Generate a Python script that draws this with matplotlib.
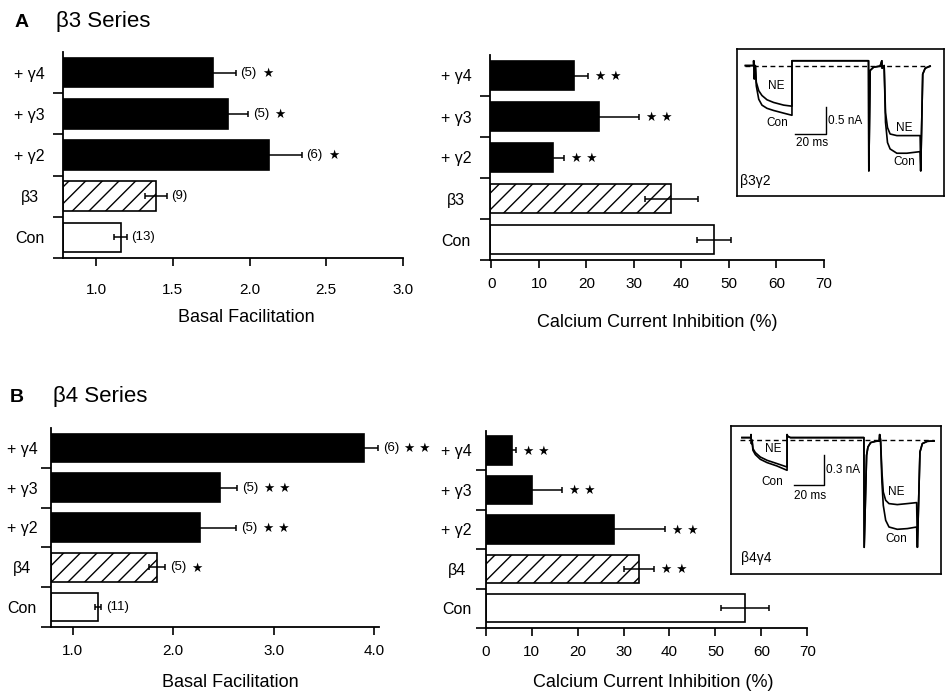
import numpy as np
import matplotlib
matplotlib.use('Agg')
import matplotlib.pyplot as plt

plt.rcParams['font.family'] = ['Liberation Sans', 'DejaVu Sans']
plt.rcParams['hatch.linewidth'] = 1.0

# ---------------- data ----------------
categories_A = ['+ γ4', '+ γ3', '+ γ2', 'β3', 'Con']
facil_A = [1.76, 1.86, 2.13, 1.39, 1.16]
facil_A_err = [0.15, 0.13, 0.21, 0.07, 0.04]
n_A = ['(5)', '(5)', '(6)', '(9)', '(13)']
facil_A_sig = ['★', '★', '★', '', '']
inhib_A = [17.3, 22.7, 13.0, 37.9, 46.9]
inhib_A_err = [3.0, 8.4, 2.2, 5.5, 3.6]
inhib_A_sig = ['★ ★', '★ ★', '★ ★', '', '']

categories_B = ['+ γ4', '+ γ3', '+ γ2', 'β4', 'Con']
facil_B = [3.90, 2.47, 2.27, 1.84, 1.25]
facil_B_err = [0.14, 0.17, 0.36, 0.08, 0.03]
n_B = ['(6)', '(5)', '(5)', '(5)', '(11)']
facil_B_sig = ['★ ★', '★ ★', '★ ★', '★', '']
inhib_B = [5.7, 10.1, 28.0, 33.3, 56.5]
inhib_B_err = [1.0, 6.6, 11.1, 3.3, 5.2]
inhib_B_sig = ['★ ★', '★ ★', '★ ★', '★ ★', '']

xticks_facil_A = [1.0, 1.5, 2.0, 2.5, 3.0]
xticklabels_facil_A = ['1.0', '1.5', '2.0', '2.5', '3.0']
xticks_facil_B = [1.0, 2.0, 3.0, 4.0]
xticklabels_facil_B = ['1.0', '2.0', '3.0', '4.0']
xticks_inhib = [0, 10, 20, 30, 40, 50, 60, 70]
xticklabels_inhib = ['0', '10', '20', '30', '40', '50', '60', '70']

# inset traces (time in ms, current in nA) -- beta3 gamma2
A_pre_t = [-5.4, 0.0, 0.0, 0.4, 1.1]
A_pre_I = [0.0, 0.0, 0.09, -0.25, 0.0]
A_p1_t = [1.7, 3.3, 5.4, 8.7, 13.0, 19.6, 25.0]
A_p1_con = [-0.38, -0.63, -0.74, -0.80, -0.84, -0.89, -0.93]
A_p1_ne = [-0.31, -0.47, -0.56, -0.64, -0.69, -0.74, -0.76]
A_mid_t = [25.0, 75.0, 75.2, 76.1, 78.3, 82.6, 83.7, 83.9, 85.2]
A_mid_I = [0.09, 0.09, -1.97, -0.09, -0.03, -0.01, 0.09, -0.05, 0.0]
A_p2_t = [86.1, 87.4, 89.1, 93.5, 100.0, 108.7]
A_p2_con = [-1.06, -1.44, -1.56, -1.64, -1.64, -1.61]
A_p2_ne = [-0.88, -1.16, -1.28, -1.31, -1.31, -1.31]
A_end_t = [109.1, 110.4, 112.0, 115.2]
A_end_I = [-1.97, -0.16, -0.05, -0.01]

# inset traces -- beta4 gamma4
B_pre_t = [-6.0, 0.0, 0.0, 0.3, 0.7]
B_pre_I = [0.027, 0.027, 0.057, -0.033, 0.0]
B_p1_t = [1.3, 2.9, 6.2, 10.7, 17.3, 24.0]
B_p1_con = [-0.10, -0.143, -0.19, -0.223, -0.257, -0.30]
B_p1_ne = [-0.083, -0.123, -0.167, -0.20, -0.233, -0.267]
B_mid_t = [24.0, 24.4, 26.2, 75.1, 75.3, 76.9, 77.8, 79.6, 82.9, 85.3, 85.6, 86.2]
B_mid_I = [0.057, 0.04, 0.027, 0.027, -1.07, -0.15, -0.067, -0.023, -0.01, -0.007, 0.057, 0.0]
B_p2_t = [87.1, 88.0, 89.6, 91.8, 97.3, 104.0, 110.2]
B_p2_con = [-0.417, -0.65, -0.80, -0.867, -0.89, -0.883, -0.867]
B_p2_ne = [-0.317, -0.517, -0.60, -0.633, -0.643, -0.633, -0.623]
B_end_t = [110.7, 112.4, 114.0, 117.3, 121.8]
B_end_I = [-1.07, -0.117, -0.033, -0.01, -0.007]

W, H = 950, 696
fig = plt.figure(figsize=(W / 100, H / 100), dpi=100)


def ax_px(x0, y0, x1, y1):
    return fig.add_axes([x0 / W, 1 - y1 / H, (x1 - x0) / W, (y1 - y0) / H])


face = ['black', 'black', 'black', 'white', 'white']
hatches = ['', '', '', '//', '']


def bar_panel(ax, cats, vals, errs, notes, sigs, xlim, xticks, xtl, xlabel,
              ypad, xpad, lab_x, lab_y):
    pos = np.arange(len(cats))[::-1]
    base = xlim[0]
    for p, v, fc, h in zip(pos, vals, face, hatches):
        ax.barh(p, v - base, left=base, height=0.72, color=fc,
                edgecolor='black', linewidth=1.2, hatch=h, zorder=2)
    ax.errorbar(vals, pos, xerr=errs, fmt='none', ecolor='black',
                elinewidth=1.1, capsize=2.2, capthick=1.1, zorder=3)
    for p, v, e, nt, sg in zip(pos, vals, errs, notes, sigs):
        if nt:
            ax.annotate(nt, (v + e, p), xytext=(3.5, 0), textcoords='offset points',
                        va='center', ha='left', fontsize=9.5)
        if sg:
            off = 19 if nt else 5
            ax.annotate(sg, (v + e, p), xytext=(off, -0.5), textcoords='offset points',
                        va='center', ha='left', fontsize=9, family='DejaVu Sans')
    ax.set_xlim(*xlim)
    ax.set_ylim(-0.5, 4.5)
    ax.set_yticks([-0.5, 0.5, 1.5, 2.5, 3.5])
    ax.set_yticklabels([])
    ax.set_yticks(pos, labels=cats, minor=True)
    ax.tick_params(axis='y', which='major', length=7, width=1.2, direction='out')
    ax.tick_params(axis='y', which='minor', length=0, pad=ypad, labelsize=11.5)
    for lbl in ax.get_yticklabels(minor=True):
        lbl.set_horizontalalignment('center')
    ax.set_xticks(xticks, labels=xtl)
    ax.tick_params(axis='x', length=5.8, width=1.2, direction='out', pad=xpad,
                   labelsize=11)
    for s in ['top', 'right']:
        ax.spines[s].set_visible(False)
    for s in ['left', 'bottom']:
        ax.spines[s].set_linewidth(1.3)
    ax.set_xlabel(xlabel, fontsize=13)
    ax.xaxis.set_label_coords(lab_x, lab_y)


axA1 = ax_px(63, 52, 403, 258)
bar_panel(axA1, categories_A, facil_A, facil_A_err, n_A, facil_A_sig,
          (0.785, 3.0), xticks_facil_A, xticklabels_facil_A, 'Basal Facilitation',
          24, 12.2, 0.54, -0.248)

axA2 = ax_px(490, 55, 824, 260)
bar_panel(axA2, categories_A, inhib_A, inhib_A_err, ['', '', '', '', ''], inhib_A_sig,
          (-0.3, 70), xticks_inhib, xticklabels_inhib, 'Calcium Current Inhibition (%)',
          24.5, 6.4, 0.5, -0.263)

axB1 = ax_px(50.7, 428, 379, 627)
bar_panel(axB1, categories_B, facil_B, facil_B_err, n_B, facil_B_sig,
          (0.78, 4.05), xticks_facil_B, xticklabels_facil_B, 'Basal Facilitation',
          20.7, 6.4, 0.546, -0.236)

axB2 = ax_px(485.7, 430.7, 807.3, 628)
bar_panel(axB2, categories_B, inhib_B, inhib_B_err, ['', '', '', '', ''], inhib_B_sig,
          (0.0, 70), xticks_inhib, xticklabels_inhib, 'Calcium Current Inhibition (%)',
          21, 6.4, 0.52, -0.233)

# titles
fig.text(15 / W, 1 - 27 / H, 'A', fontsize=14, fontweight='bold', va='baseline')
fig.text(56 / W, 1 - 27 / H, 'β3 Series', fontsize=16, va='baseline')
fig.text(10 / W, 1 - 402 / H, 'B', fontsize=14, fontweight='bold', va='baseline')
fig.text(53 / W, 1 - 402 / H, 'β4 Series', fontsize=16, va='baseline')


def inset(ax, pre_t, pre_I, p1_t, p1_con, p1_ne, mid_t, mid_I, p2_t, p2_con, p2_ne,
          end_t, end_I, xlim, ylim, base_span, bar_corner, bar_sizes, bar_label,
          labels, title, title_xy):
    con_t = np.concatenate([pre_t, p1_t, mid_t, p2_t, end_t])
    con_I = np.concatenate([pre_I, p1_con, mid_I, p2_con, end_I])
    ne_t = np.concatenate([pre_t, p1_t, mid_t, p2_t, end_t])
    ne_I = np.concatenate([pre_I, p1_ne, mid_I, p2_ne, end_I])
    ax.plot(base_span, [0, 0], color='black', lw=1.0, ls=(0, (3.5, 2.5)))
    ax.plot(con_t, con_I, color='black', lw=1.2)
    ax.plot(ne_t, ne_I, color='black', lw=1.2)
    cx, cy = bar_corner
    dt, di = bar_sizes
    ax.plot([cx - dt, cx, cx], [cy, cy, cy + di], color='black', lw=1.0)
    ax.text(cx + 1.3, cy + di * 0.5, bar_label, fontsize=8.5, va='center', ha='left')
    ax.text(cx - dt * 0.5 + 1, cy - di * 0.35, '20 ms', fontsize=8.5, va='center', ha='center')
    for (tx, ty, s) in labels:
        ax.text(tx, ty, s, fontsize=8.5, ha='center', va='center')
    ax.text(title_xy[0], title_xy[1], title, fontsize=10, ha='left', va='center')
    ax.set_xlim(*xlim)
    ax.set_ylim(*ylim)
    ax.set_xticks([])
    ax.set_yticks([])
    for s in ax.spines.values():
        s.set_linewidth(1.2)


insA = ax_px(737, 49, 944, 196)
inset(insA, A_pre_t, A_pre_I, A_p1_t, A_p1_con, A_p1_ne, A_mid_t, A_mid_I,
      A_p2_t, A_p2_con, A_p2_ne, A_end_t, A_end_I,
      (-10.9, 124.3), (-2.44, 0.31), [-5.4, 115.2], (47.2, -1.28), (20, 0.5), '0.5 nA',
      [(14.8, -0.375, 'NE'), (15.2, -1.08, 'Con'), (98.5, -1.16, 'NE'), (98.5, -1.81, 'Con')],
      'β3γ2', (-8.7, -2.16))

insB = ax_px(731, 426, 941, 574)
inset(insB, B_pre_t, B_pre_I, B_p1_t, B_p1_con, B_p1_ne, B_mid_t, B_mid_I,
      B_p2_t, B_p2_con, B_p2_ne, B_end_t, B_end_I,
      (-13.3, 126.4), (-1.337, 0.143), [-7.1, 121.8], (48.4, -0.45), (20, 0.3), '0.3 nA',
      [(14.7, -0.09, 'NE'), (14.0, -0.417, 'Con'), (96.9, -0.517, 'NE'), (96.9, -0.99, 'Con')],
      'β4γ4', (-6.7, -1.18))

fig.savefig('out.png', dpi=100)
